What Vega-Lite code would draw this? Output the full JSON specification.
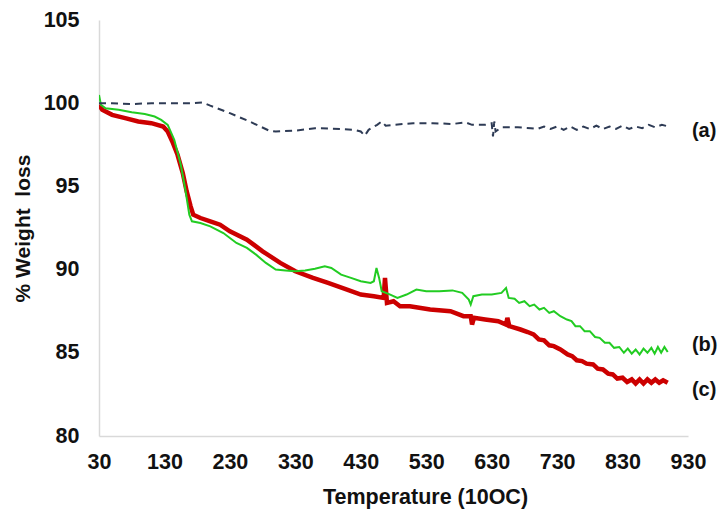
{
  "$schema": "https://vega.github.io/schema/vega-lite/v6.json",
  "width": 589,
  "height": 416,
  "autosize": {"type": "none"},
  "padding": {"left": 99, "top": 20, "right": 32, "bottom": 80},
  "background": "white",
  "config": {"view": {"stroke": null}, "font": "Liberation Sans"},
  "datasets": {
    "a": [
      {"t": 30, "w": 100.0}, {"t": 50, "w": 100.0}, {"t": 80, "w": 99.95}, {"t": 110, "w": 100.0}, {"t": 140, "w": 100.0},
      {"t": 170, "w": 100.0}, {"t": 188, "w": 100.05}, {"t": 200, "w": 99.85}, {"t": 230, "w": 99.4}, {"t": 260, "w": 98.9},
      {"t": 290, "w": 98.35}, {"t": 300, "w": 98.3}, {"t": 330, "w": 98.35}, {"t": 360, "w": 98.5}, {"t": 400, "w": 98.45},
      {"t": 420, "w": 98.4}, {"t": 430, "w": 98.3}, {"t": 436, "w": 98.05}, {"t": 442, "w": 98.4}, {"t": 455, "w": 98.7},
      {"t": 462, "w": 98.9}, {"t": 468, "w": 98.65}, {"t": 480, "w": 98.7}, {"t": 510, "w": 98.8}, {"t": 540, "w": 98.8},
      {"t": 570, "w": 98.75}, {"t": 590, "w": 98.85}, {"t": 600, "w": 98.7}, {"t": 620, "w": 98.7}, {"t": 630, "w": 98.8},
      {"t": 632, "w": 98.0}, {"t": 634, "w": 98.9}, {"t": 636, "w": 98.3}, {"t": 645, "w": 98.55}, {"t": 670, "w": 98.55},
      {"t": 690, "w": 98.5}, {"t": 700, "w": 98.45}, {"t": 710, "w": 98.6}, {"t": 720, "w": 98.45}, {"t": 730, "w": 98.6},
      {"t": 740, "w": 98.4}, {"t": 750, "w": 98.6}, {"t": 760, "w": 98.4}, {"t": 770, "w": 98.6}, {"t": 780, "w": 98.45},
      {"t": 790, "w": 98.65}, {"t": 800, "w": 98.45}, {"t": 810, "w": 98.6}, {"t": 820, "w": 98.45}, {"t": 830, "w": 98.65},
      {"t": 840, "w": 98.45}, {"t": 850, "w": 98.6}, {"t": 860, "w": 98.5}, {"t": 870, "w": 98.7}, {"t": 880, "w": 98.55},
      {"t": 890, "w": 98.7}, {"t": 900, "w": 98.6}
    ],
    "b": [
      {"t": 30, "w": 100.5}, {"t": 33, "w": 99.9}, {"t": 40, "w": 99.7}, {"t": 60, "w": 99.6}, {"t": 80, "w": 99.45},
      {"t": 100, "w": 99.35}, {"t": 115, "w": 99.2}, {"t": 125, "w": 99.0}, {"t": 135, "w": 98.7}, {"t": 145, "w": 97.8},
      {"t": 155, "w": 96.3}, {"t": 162, "w": 94.8}, {"t": 168, "w": 93.3}, {"t": 172, "w": 92.9}, {"t": 185, "w": 92.8},
      {"t": 200, "w": 92.6}, {"t": 220, "w": 92.2}, {"t": 240, "w": 91.6}, {"t": 256, "w": 91.3}, {"t": 270, "w": 90.9},
      {"t": 285, "w": 90.4}, {"t": 300, "w": 90.0}, {"t": 315, "w": 89.95}, {"t": 330, "w": 89.9}, {"t": 345, "w": 89.95},
      {"t": 360, "w": 90.05}, {"t": 375, "w": 90.2}, {"t": 385, "w": 90.1}, {"t": 400, "w": 89.7}, {"t": 415, "w": 89.5},
      {"t": 430, "w": 89.3}, {"t": 445, "w": 89.2}, {"t": 450, "w": 89.3}, {"t": 454, "w": 90.1}, {"t": 458, "w": 89.5},
      {"t": 462, "w": 88.7}, {"t": 475, "w": 88.5}, {"t": 486, "w": 88.3}, {"t": 500, "w": 88.5}, {"t": 515, "w": 88.8},
      {"t": 530, "w": 88.7}, {"t": 550, "w": 88.7}, {"t": 570, "w": 88.75}, {"t": 585, "w": 88.6}, {"t": 595, "w": 88.2},
      {"t": 598, "w": 87.9}, {"t": 602, "w": 88.4}, {"t": 615, "w": 88.5}, {"t": 630, "w": 88.5}, {"t": 645, "w": 88.6},
      {"t": 652, "w": 88.9}, {"t": 656, "w": 88.3}, {"t": 665, "w": 88.25}, {"t": 672, "w": 88.0}, {"t": 680, "w": 88.1},
      {"t": 688, "w": 87.8}, {"t": 695, "w": 87.9}, {"t": 703, "w": 87.6}, {"t": 710, "w": 87.7}, {"t": 718, "w": 87.4},
      {"t": 725, "w": 87.5}, {"t": 735, "w": 87.2}, {"t": 745, "w": 87.0}, {"t": 752, "w": 86.9}, {"t": 758, "w": 86.6},
      {"t": 765, "w": 86.6}, {"t": 772, "w": 86.3}, {"t": 780, "w": 86.3}, {"t": 788, "w": 85.95}, {"t": 795, "w": 85.9},
      {"t": 803, "w": 85.6}, {"t": 810, "w": 85.6}, {"t": 817, "w": 85.3}, {"t": 825, "w": 85.35}, {"t": 832, "w": 85.0},
      {"t": 838, "w": 85.25}, {"t": 844, "w": 84.95}, {"t": 850, "w": 85.2}, {"t": 856, "w": 84.9}, {"t": 862, "w": 85.25},
      {"t": 868, "w": 85.0}, {"t": 874, "w": 85.3}, {"t": 879, "w": 84.95}, {"t": 884, "w": 85.35}, {"t": 889, "w": 85.0},
      {"t": 894, "w": 85.35}, {"t": 899, "w": 85.05}
    ],
    "c": [
      {"t": 30, "w": 99.9}, {"t": 35, "w": 99.6}, {"t": 50, "w": 99.3}, {"t": 70, "w": 99.1}, {"t": 90, "w": 98.9},
      {"t": 110, "w": 98.8}, {"t": 128, "w": 98.6}, {"t": 135, "w": 98.3}, {"t": 142, "w": 97.7}, {"t": 150, "w": 96.9},
      {"t": 158, "w": 95.8}, {"t": 164, "w": 94.7}, {"t": 170, "w": 93.8}, {"t": 174, "w": 93.3}, {"t": 185, "w": 93.1},
      {"t": 200, "w": 92.9}, {"t": 215, "w": 92.7}, {"t": 230, "w": 92.3}, {"t": 256, "w": 91.8}, {"t": 280, "w": 91.1},
      {"t": 307, "w": 90.4}, {"t": 330, "w": 89.9}, {"t": 357, "w": 89.5}, {"t": 380, "w": 89.2}, {"t": 409, "w": 88.8},
      {"t": 430, "w": 88.5}, {"t": 450, "w": 88.4}, {"t": 465, "w": 88.3}, {"t": 467, "w": 89.5}, {"t": 470, "w": 88.0},
      {"t": 480, "w": 88.1}, {"t": 490, "w": 87.8}, {"t": 505, "w": 87.8}, {"t": 536, "w": 87.6}, {"t": 567, "w": 87.5},
      {"t": 587, "w": 87.2}, {"t": 598, "w": 87.2}, {"t": 600, "w": 86.7}, {"t": 603, "w": 87.1}, {"t": 620, "w": 87.0},
      {"t": 640, "w": 86.9}, {"t": 652, "w": 86.7}, {"t": 654, "w": 87.1}, {"t": 657, "w": 86.6}, {"t": 674, "w": 86.4},
      {"t": 685, "w": 86.25}, {"t": 694, "w": 86.1}, {"t": 702, "w": 85.8}, {"t": 710, "w": 85.75}, {"t": 718, "w": 85.45},
      {"t": 725, "w": 85.4}, {"t": 735, "w": 85.2}, {"t": 746, "w": 84.9}, {"t": 753, "w": 84.8}, {"t": 760, "w": 84.55},
      {"t": 768, "w": 84.5}, {"t": 775, "w": 84.35}, {"t": 785, "w": 84.3}, {"t": 792, "w": 84.05}, {"t": 800, "w": 84.0},
      {"t": 808, "w": 83.75}, {"t": 815, "w": 83.7}, {"t": 822, "w": 83.45}, {"t": 830, "w": 83.5}, {"t": 837, "w": 83.25},
      {"t": 844, "w": 83.4}, {"t": 850, "w": 83.15}, {"t": 856, "w": 83.4}, {"t": 862, "w": 83.15}, {"t": 868, "w": 83.4},
      {"t": 874, "w": 83.2}, {"t": 880, "w": 83.4}, {"t": 886, "w": 83.2}, {"t": 892, "w": 83.35}, {"t": 899, "w": 83.2}
    ],
    "labels": [
      {"t": 936, "w": 98.35, "lab": "(a)"},
      {"t": 936, "w": 85.45, "lab": "(b)"},
      {"t": 936, "w": 82.75, "lab": "(c)"}
    ]
  },
  "encoding": {
    "x": {
      "field": "t", "type": "quantitative",
      "scale": {"domain": [30, 930], "nice": false, "zero": false},
      "axis": {
        "values": [30, 130, 230, 330, 430, 530, 630, 730, 830, 930],
        "title": "Temperature (10OC)",
        "grid": false, "ticks": false, "domainColor": "#D9D9D9", "domainWidth": 1.5,
        "labelFont": "Liberation Sans", "labelFontWeight": "bold", "labelFontSize": 21.5, "labelColor": "#111",
        "labelPadding": 15, "labelFlush": false,
        "titleFont": "Liberation Sans", "titleFontWeight": "bold", "titleFontSize": 21.5, "titleColor": "#111",
        "titlePadding": 14, "titleX": 326
      }
    },
    "y": {
      "field": "w", "type": "quantitative",
      "scale": {"domain": [80, 105], "nice": false, "zero": false},
      "axis": {
        "values": [80, 85, 90, 95, 100, 105],
        "title": "% Weight\u00a0 loss",
        "grid": false, "ticks": false, "domainColor": "#D9D9D9", "domainWidth": 1.5,
        "labelFont": "Liberation Sans", "labelFontWeight": "bold", "labelFontSize": 21.5, "labelColor": "#111",
        "labelPadding": 20,
        "titleFont": "Liberation Sans", "titleFontWeight": "bold", "titleFontSize": 21, "titleColor": "#111",
        "titlePadding": 10
      }
    }
  },
  "layer": [
    {"data": {"name": "c"}, "mark": {"type": "line", "color": "#CC0000", "strokeWidth": 4.5, "clip": true}},
    {"data": {"name": "b"}, "mark": {"type": "line", "color": "#22CC22", "strokeWidth": 2, "clip": true}},
    {"data": {"name": "a"}, "mark": {"type": "line", "color": "#2E3B55", "strokeWidth": 2, "strokeDash": [7, 5], "clip": true}},
    {
      "data": {"name": "labels"},
      "mark": {"type": "text", "align": "left", "baseline": "middle", "font": "Liberation Sans", "fontWeight": "bold", "fontSize": 20, "color": "#111", "clip": false},
      "encoding": {"text": {"field": "lab", "type": "nominal"}}
    }
  ]
}
